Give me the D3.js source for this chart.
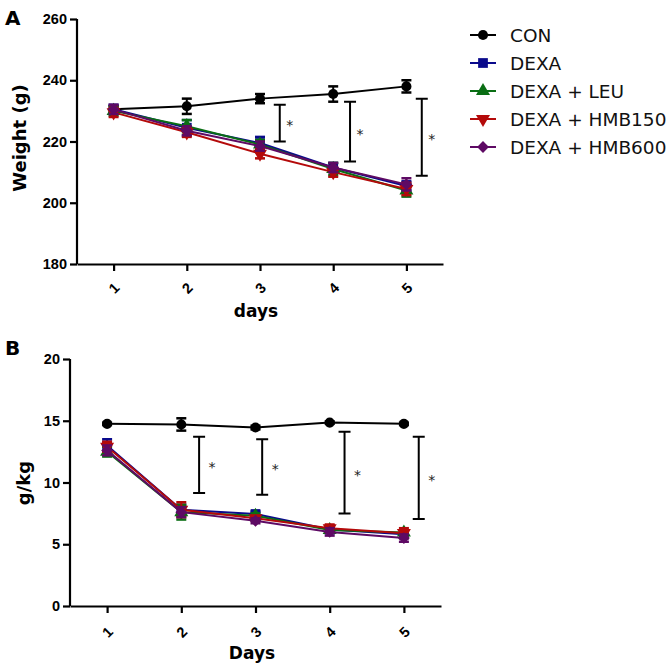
<!DOCTYPE html>
<html>
<head>
<meta charset="utf-8">
<script src="https://cdn.jsdelivr.net/npm/d3@7"></script>
<style>
  html, body { margin: 0; padding: 0; background: #fff; }
  svg { display: block; font-family: 'DejaVu Sans', sans-serif; }
  .axis path, .axis line { stroke: #000; stroke-width: 2.2; }
  .axis text { font-weight: bold; font-size: 14.5px; fill: #000; }
</style>
</head>
<body>
<div id="chart"></div>
<script>
// Days on the x axis, shared by both panels.
const days = [1, 2, 3, 4, 5];
const seriesNames = ['CON', 'DEXA', 'DEXA + LEU', 'DEXA + HMB150', 'DEXA + HMB600'];
const seriesColors = ['#000000', '#0a0a8c', '#0a6e14', '#b40a0a', '#5e0a64'];

// Panel A: body weight (g), mean and error.
const weightCon = [230.5, 231.5, 234, 235.5, 238];
const weightConErr = [1, 2.5, 1.5, 2.5, 2];
const weightDexa = [230.5, 224.5, 219.5, 211.5, 205.5];
const weightDexaErr = [1.5, 2.5, 2, 1.5, 1.5];
const weightLeu = [230, 225, 219, 211, 204];
const weightLeuErr = [1.5, 2, 1.5, 2, 2];
const weightHmb150 = [229.5, 223, 216, 210, 204.5];
const weightHmb150Err = [1.5, 1.5, 1.5, 1.5, 2];
const weightHmb600 = [230.5, 223.5, 218.5, 211.5, 206];
const weightHmb600Err = [1.5, 1.5, 1.5, 1.5, 2];
const weightTicks = [180, 200, 220, 240, 260];

// Panel A significance brackets.
const weightSigX = [3.27, 4.23, 5.21];
const weightSigLow = [220, 213.5, 208.8];
const weightSigHigh = [232, 233, 234];

// Panel B: g/kg, mean and error.
const ratioCon = [14.75, 14.7, 14.45, 14.85, 14.75];
const ratioConErr = [0.1, 0.5, 0.15, 0.1, 0.1];
const ratioDexa = [13.0, 7.8, 7.45, 6.2, 5.8];
const ratioDexaErr = [0.5, 0.4, 0.2, 0.3, 0.3];
const ratioLeu = [12.5, 7.6, 7.3, 6.15, 5.95];
const ratioLeuErr = [0.4, 0.6, 0.2, 0.2, 0.2];
const ratioHmb150 = [12.9, 7.8, 7.1, 6.3, 5.9];
const ratioHmb150Err = [0.4, 0.6, 0.2, 0.3, 0.4];
const ratioHmb600 = [12.6, 7.6, 6.9, 6.0, 5.5];
const ratioHmb600Err = [0.4, 0.4, 0.2, 0.3, 0.3];
const ratioTicks = [0, 5, 10, 15, 20];

// Panel B significance brackets.
const ratioSigX = [2.24, 3.09, 4.2, 5.2];
const ratioSigLow = [9.15, 9.0, 7.5, 7.05];
const ratioSigHigh = [13.7, 13.5, 14.1, 13.7];

const svg = d3.select('#chart').append('svg')
  .attr('width', 671)
  .attr('height', 671);

// Marker shapes per series.
const symbolSpecs = [
  { type: d3.symbolCircle, size: 80, rot: 0 },
  { type: d3.symbolSquare, size: 95, rot: 0 },
  { type: d3.symbolTriangle, size: 85, rot: 0 },
  { type: d3.symbolTriangle, size: 85, rot: 180 },
  { type: d3.symbolSquare, size: 70, rot: 45 },
];

/**
 * Draws one panel with axes, series, error bars and brackets.
 */
function drawPanel(opts) {
  const g = svg.append('g');

  const x = d3.scaleLinear().domain([0.5, 5.5]).range(opts.xRange);
  const y = d3.scaleLinear().domain(opts.yDomain).range(opts.yRange);

  // Y axis.
  const yAxis = g.append('g')
    .attr('class', 'axis')
    .attr('transform', `translate(${opts.xRange[0]},0)`)
    .call(d3.axisLeft(y).tickValues(opts.yTicks).tickSize(7).tickPadding(3).tickSizeOuter(0));
  yAxis.select('.domain').attr('d', `M0,${opts.yRange[0]}V${opts.yRange[1]}`);

  // X axis with rotated labels.
  const xAxis = g.append('g')
    .attr('class', 'axis')
    .attr('transform', `translate(0,${opts.yRange[0]})`)
    .call(d3.axisBottom(x).tickValues(days).tickFormat(d3.format('d')).tickSize(7).tickSizeOuter(0));
  xAxis.selectAll('.tick text')
    .attr('y', 0)
    .attr('dy', '0.35em')
    .attr('text-anchor', 'middle')
    .attr('transform', `translate(0,${opts.labelDrop}) rotate(-45)`);

  // Axis titles.
  g.append('text')
    .attr('x', opts.xTitleX)
    .attr('y', opts.xTitleY)
    .attr('text-anchor', 'middle')
    .style('font-weight', 'bold')
    .style('font-size', '17px')
    .text(opts.xTitle);
  g.append('text')
    .attr('transform', `translate(${opts.yTitleX},${opts.yTitleY}) rotate(-90)`)
    .attr('text-anchor', 'middle')
    .style('font-weight', 'bold')
    .style('font-size', '18px')
    .text(opts.yTitle);

  // Panel letter.
  g.append('text')
    .attr('x', opts.letterX)
    .attr('y', opts.letterY)
    .style('font-weight', 'bold')
    .style('font-size', '20px')
    .text(opts.letter);

  const line = d3.line()
    .x((d, i) => x(days[i]))
    .y((d) => y(d));

  // Series: line, error bars, markers.
  opts.series.forEach((vals, si) => {
    const color = seriesColors[si];
    const errs = opts.errors[si];
    const sg = g.append('g');

    sg.append('path')
      .datum(vals)
      .attr('d', line)
      .attr('fill', 'none')
      .attr('stroke', color)
      .attr('stroke-width', 2);

    const eb = sg.selectAll('.eb')
      .data(vals)
      .enter().append('g');
    eb.append('line')
      .attr('x1', (d, i) => x(days[i]))
      .attr('x2', (d, i) => x(days[i]))
      .attr('y1', (d, i) => y(d - errs[i]))
      .attr('y2', (d, i) => y(d + errs[i]))
      .attr('stroke', color)
      .attr('stroke-width', 2);
    [-1, 1].forEach((sgn) => {
      eb.append('line')
        .attr('x1', (d, i) => x(days[i]) - 5)
        .attr('x2', (d, i) => x(days[i]) + 5)
        .attr('y1', (d, i) => y(d + sgn * errs[i]))
        .attr('y2', (d, i) => y(d + sgn * errs[i]))
        .attr('stroke', color)
        .attr('stroke-width', 2.5);
    });

    const spec = symbolSpecs[si];
    sg.selectAll('.mk')
      .data(vals)
      .enter().append('path')
      .attr('d', d3.symbol().type(spec.type).size(spec.size))
      .attr('transform', (d, i) => `translate(${x(days[i])},${y(d)}) rotate(${spec.rot})`)
      .attr('fill', color);
  });

  // Significance brackets with stars.
  opts.sigX.forEach((sx, i) => {
    const bx = x(sx);
    const y1 = y(opts.sigHigh[i]);
    const y2 = y(opts.sigLow[i]);
    g.append('path')
      .attr('d', `M${bx - 6},${y1}H${bx + 6}M${bx},${y1}V${y2}M${bx - 6},${y2}H${bx + 6}`)
      .attr('fill', 'none')
      .attr('stroke', '#000')
      .attr('stroke-width', 2);
    g.append('text')
      .attr('x', bx + opts.starOffset)
      .attr('y', (y1 + y2) / 2 + 7)
      .attr('text-anchor', 'middle')
      .style('font-size', '14px')
      .style('fill', '#222')
      .text('*');
  });
}

drawPanel({
  letter: 'A', letterX: 5, letterY: 25,
  xRange: [77, 443], yRange: [264, 19], yDomain: [180, 260], yTicks: weightTicks,
  labelDrop: 24,
  xTitle: 'days', xTitleX: 256, xTitleY: 317,
  yTitle: 'Weight (g)', yTitleX: 26, yTitleY: 138,
  series: [weightCon, weightDexa, weightLeu, weightHmb150, weightHmb600],
  errors: [weightConErr, weightDexaErr, weightLeuErr, weightHmb150Err, weightHmb600Err],
  sigX: weightSigX, sigLow: weightSigLow, sigHigh: weightSigHigh, starOffset: 10,
});

drawPanel({
  letter: 'B', letterX: 5, letterY: 355,
  xRange: [70, 441], yRange: [606, 359], yDomain: [0, 20], yTicks: ratioTicks,
  labelDrop: 26,
  xTitle: 'Days', xTitleX: 252, xTitleY: 659,
  yTitle: 'g/kg', yTitleX: 30, yTitleY: 483,
  series: [ratioCon, ratioDexa, ratioLeu, ratioHmb150, ratioHmb600],
  errors: [ratioConErr, ratioDexaErr, ratioLeuErr, ratioHmb150Err, ratioHmb600Err],
  sigX: ratioSigX, sigLow: ratioSigLow, sigHigh: ratioSigHigh, starOffset: 13,
});

// Legend, top right.
const legendY = d3.scalePoint().domain(seriesNames).range([35, 147]);
const legend = svg.append('g');
seriesNames.forEach((name, i) => {
  const ly = legendY(name);
  const spec = symbolSpecs[i];
  legend.append('line')
    .attr('x1', 470).attr('x2', 496)
    .attr('y1', ly).attr('y2', ly)
    .attr('stroke', seriesColors[i])
    .attr('stroke-width', 2);
  legend.append('path')
    .attr('d', d3.symbol().type(spec.type).size(spec.size)())
    .attr('transform', `translate(483,${ly}) rotate(${spec.rot})`)
    .attr('fill', seriesColors[i]);
  legend.append('text')
    .attr('x', 510)
    .attr('y', ly)
    .attr('dy', '0.36em')
    .style('font-size', '18.5px')
    .style('fill', '#111')
    .text(name);
});
</script>
</body>
</html>
